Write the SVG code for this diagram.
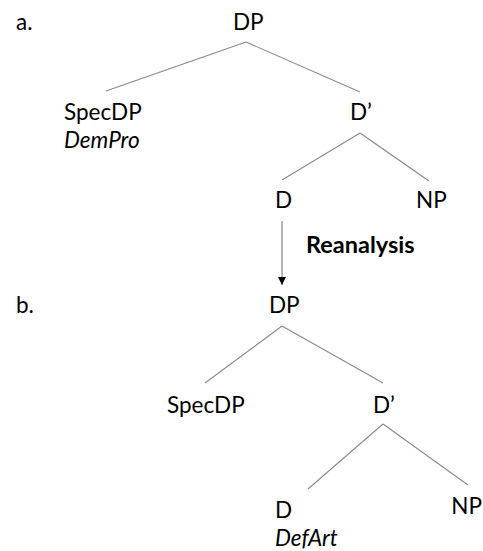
<svg xmlns="http://www.w3.org/2000/svg" width="483" height="551" viewBox="0 0 483 551">
  <style>
    text { font-family: Lato, "Open Sans", "Liberation Sans", sans-serif; font-size: 22.5px; fill: #000; }
    .it { font-style: italic; }
    .bd { font-weight: bold; font-size: 23.5px; }
    .end { text-anchor: end; }
    .edge { stroke: #8a8a8a; stroke-width: 1.1; fill: none; }
    .arrow { stroke: #7a7a7a; stroke-width: 1.1; fill: none; }
  </style>
  <defs>
    <marker id="head" viewBox="0 0 8 8" refX="8" refY="4" markerWidth="8" markerHeight="8" markerUnits="userSpaceOnUse" orient="auto">
      <path d="M0,0 L8,4 L0,8 Z" fill="#000"/>
    </marker>
  </defs>
  <rect width="483" height="551" fill="#fff"/>

  <!-- tree (a) -->
  <text id="label-a" x="16" y="30">a.</text>
  <g id="a-DP"><text x="233" y="30">DP</text></g>
  <g id="a-SpecDP"><text x="64" y="120">SpecDP</text><text class="it" x="64" y="148">DemPro</text></g>
  <g id="a-Dbar"><text x="350" y="120">D’</text></g>
  <g id="a-D"><text x="275" y="208">D</text></g>
  <g id="a-NP"><text x="416" y="208">NP</text></g>

  <!-- tree (b) -->
  <text id="label-b" x="16" y="313">b.</text>
  <g id="b-DP"><text x="269" y="313">DP</text></g>
  <g id="b-SpecDP"><text x="167" y="413">SpecDP</text></g>
  <g id="b-Dbar"><text x="373" y="413">D’</text></g>
  <g id="b-D"><text x="275" y="518">D</text><text class="it" x="275" y="546">DefArt</text></g>
  <g id="b-NP"><text class="end" x="482" y="514">NP</text></g>

  <g id="connectors">
    <line class="edge" x1="246" y1="42" x2="106" y2="91"/>
    <line class="edge" x1="246" y1="42" x2="360" y2="92"/>
    <line class="edge" x1="360" y1="133" x2="282" y2="180"/>
    <line class="edge" x1="360" y1="133" x2="429" y2="181"/>
    <line class="arrow" x1="282" y1="221" x2="282" y2="285" marker-end="url(#head)"/>
    <text class="bd" x="306" y="253">Reanalysis</text>
    <line class="edge" x1="282" y1="326" x2="205" y2="383"/>
    <line class="edge" x1="282" y1="326" x2="383" y2="383"/>
    <line class="edge" x1="383" y1="424" x2="308" y2="489"/>
    <line class="edge" x1="383" y1="424" x2="468" y2="485"/>
  </g>
</svg>
